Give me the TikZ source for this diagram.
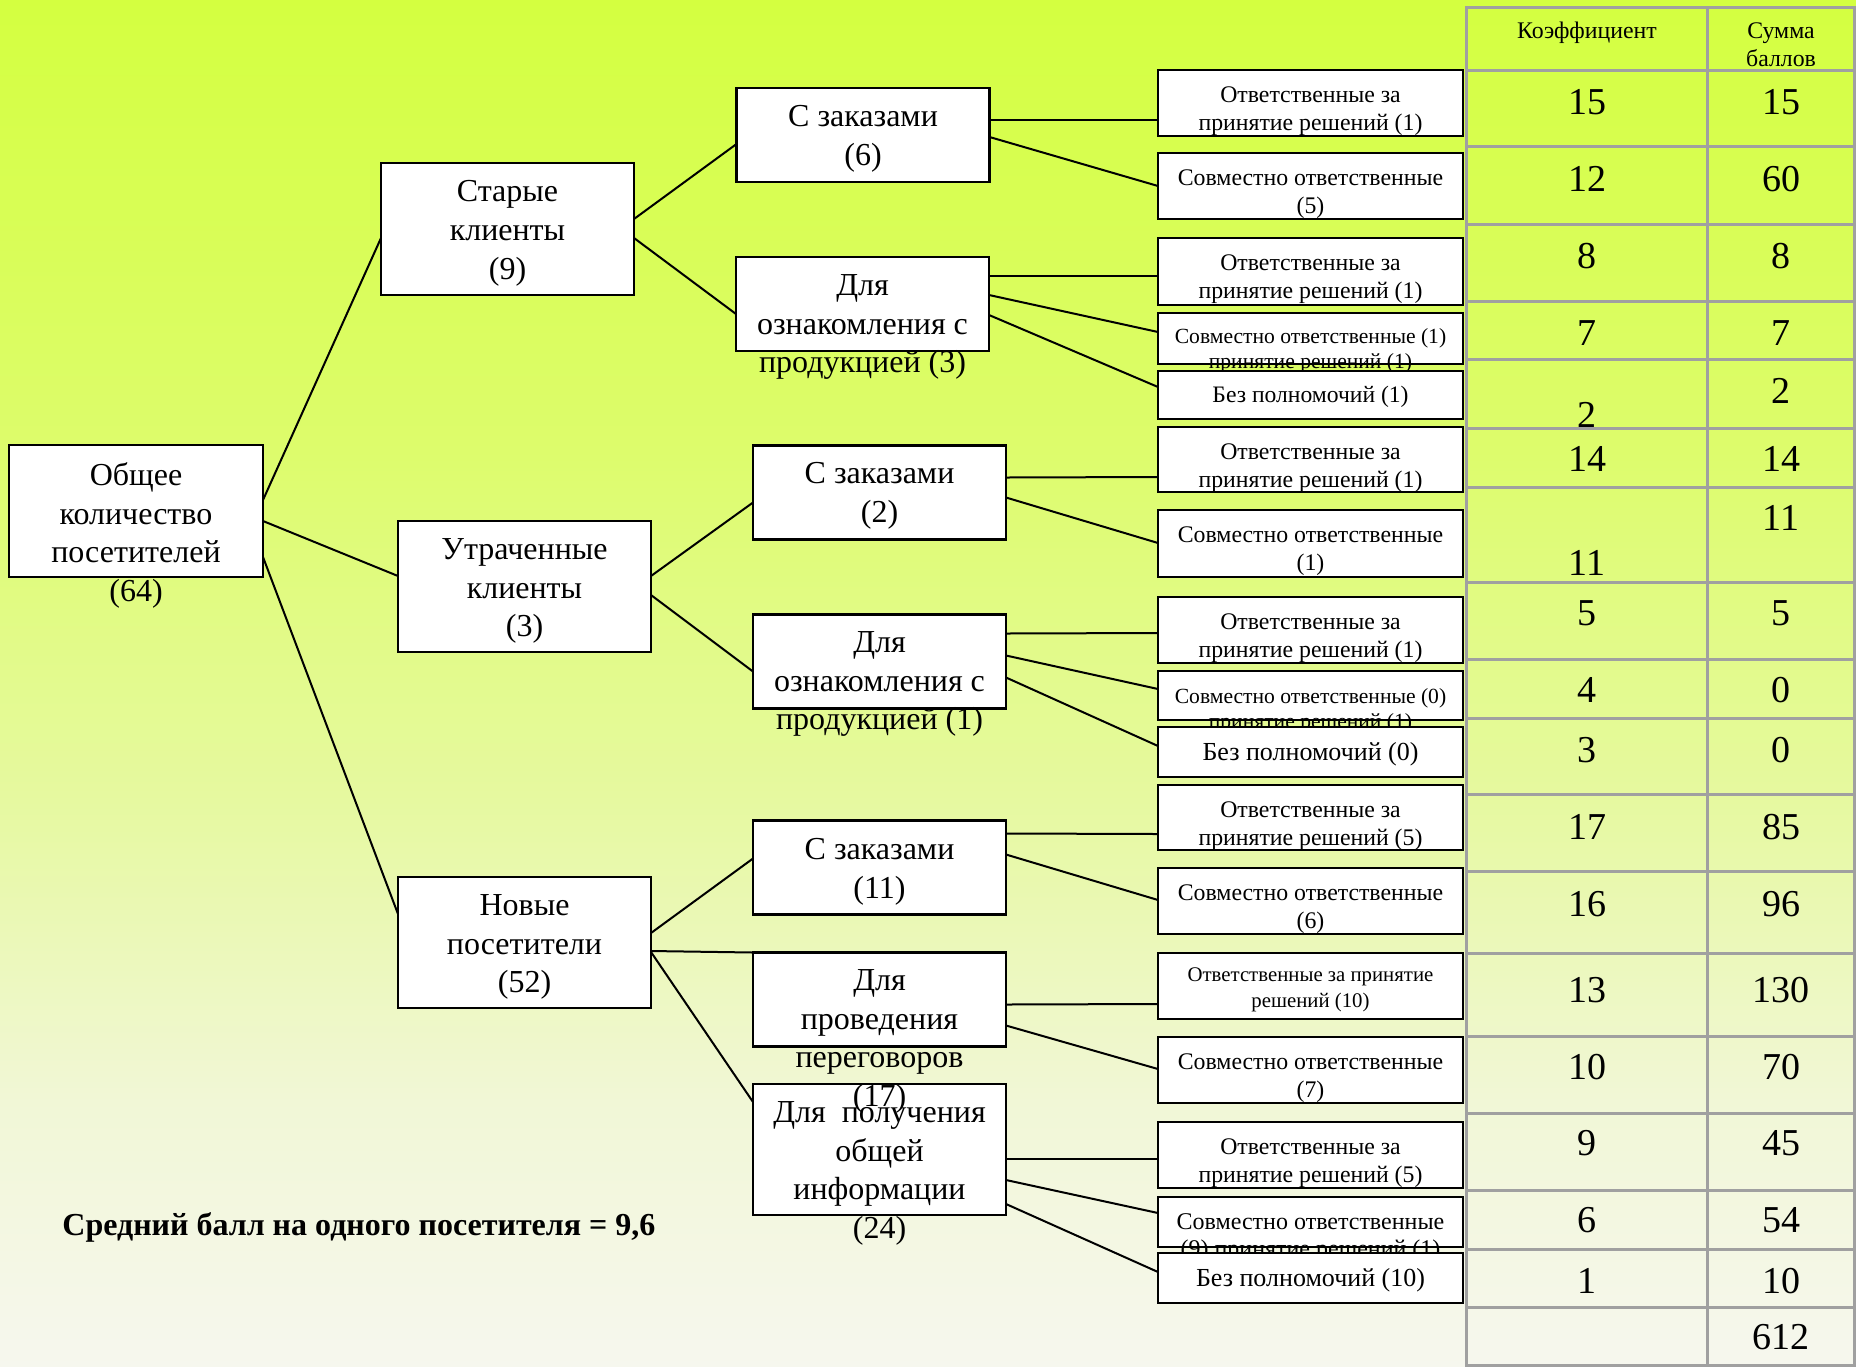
\documentclass[tikz,border=0pt]{standalone}
\usepackage{fontspec}
\setmainfont{Liberation Serif}
\usetikzlibrary{calc}
\definecolor{bgA}{RGB}{212,255,64}
\definecolor{bgB}{RGB}{221,252,108}
\definecolor{bgC}{RGB}{230,249,160}
\definecolor{bgD}{RGB}{241,247,214}
\definecolor{bgE}{RGB}{246,247,238}
\definecolor{tgray}{RGB}{160,160,160}
\pgfdeclareverticalshading{bgsh}{100bp}{color(0bp)=(bgE); color(25bp)=(bgE); color(34.7bp)=(bgD); color(45.7bp)=(bgC); color(58.5bp)=(bgB); color(75bp)=(bgA); color(100bp)=(bgA)}
\begin{document}
\begin{tikzpicture}[x=0.5pt,y=-0.5pt,
  box/.style={draw=black, fill=white, line width=1.3pt, rectangle, inner sep=0pt, outer sep=0pt},
  bigbox/.style={box, minimum width=126.5pt, minimum height=66pt},
  midbox/.style={box, minimum width=126.5pt, minimum height=47pt},
  leafbox/.style={box, minimum width=152.5pt},
  bigtxt/.style={font=\fontsize{16pt}{19.4pt}\selectfont, align=center, inner sep=0pt, anchor=north},
  leaftxt/.style={font=\fontsize{11.9pt}{14.2pt}\selectfont, align=center, inner sep=0pt, anchor=north},
  conn/.style={draw=black, line width=1pt},
  tline/.style={draw=tgray, line width=1.5pt},
  num/.style={font=\fontsize{19pt}{22pt}\selectfont, inner sep=0pt},
  head/.style={font=\fontsize{11.9pt}{14pt}\selectfont, align=center, inner sep=0pt, anchor=north}
]
\useasboundingbox (0,0) rectangle (1856,1366);
\shade[shading=bgsh] (0,0) rectangle (1856,1366);

% ---------- table grid ----------
\begin{scope}
\clip (0,0) rectangle (1856,1366);
\draw[tline] (1466,7) rectangle (1854,1365);
\draw[tline] (1707,7) -- (1707,1365);
\foreach \yy in {70,146,224,301,359,428,487,582,659,718,794,871,953,1036,1113,1190,1249,1307}
  \draw[tline] (1466,\yy) -- (1854,\yy);
\end{scope}

% ---------- boxes level 1 and 2 ----------
\node[bigbox, minimum width=127pt] (root) at (136,511) {};
\node[bigbox] (old) at (507.5,229) {};
\node[bigbox, minimum height=65.5pt] (lost) at (524.5,586.5) {};
\node[bigbox, minimum height=65.5pt] (new) at (524.5,942.5) {};

\node[midbox] (o1) at (863,135) {};
\node[midbox] (o2) at (862.5,304) {};
\node[midbox] (l1) at (879.5,492.5) {};
\node[midbox] (l2) at (879.5,661.5) {};
\node[midbox] (n1) at (879.5,867.5) {};
\node[midbox] (n3) at (879.5,1149.5) [minimum height=65.5pt] {};
\node[midbox] (n2) at (879.5,999.5) {};

% ---------- connectors level 1 -> 2 -> 3 ----------
\draw[conn] ($(root.north east)+(0,55)$) -- ($(old.north west)+(0,75)$);
\draw[conn] ($(root.north east)+(0,76)$) -- ($(lost.north west)+(0,55)$);
\draw[conn] ($(root.north east)+(0,112)$) -- ($(new.north west)+(0,37)$);

\draw[conn] ($(old.north east)+(0,56)$) -- ($(o1.north west)+(0,56)$);
\draw[conn] ($(old.north east)+(0,75)$) -- ($(o2.north west)+(0,57)$);
\draw[conn] ($(lost.north east)+(0,55)$) -- ($(l1.north west)+(0,57)$);
\draw[conn] ($(lost.north east)+(0,74)$) -- ($(l2.north west)+(0,57)$);
\draw[conn] ($(new.north east)+(0,56)$) -- ($(n1.north west)+(0,38)$);
\draw[conn] ($(new.north east)+(0,74)$) -- (n2.north west);
\draw[conn] ($(new.north east)+(0,75)$) -- ($(n3.north west)+(0,18)$);

% ---------- leaf boxes ----------
\node[leafbox, minimum height=33pt] (r1) at (1310.5,103) {};
\node[leafbox, minimum height=33pt] (r2) at (1310.5,186) {};
\node[leafbox, minimum height=33.5pt] (r3) at (1310.5,271.5) {};
\node[leafbox, minimum height=25.5pt] (r4) at (1310.5,338.5) {};
\node[leafbox, minimum height=24pt] (r5) at (1310.5,395) {};
\node[leafbox, minimum height=32.5pt] (r6) at (1310.5,459.5) {};
\node[leafbox, minimum height=33.5pt] (r7) at (1310.5,543.5) {};
\node[leafbox, minimum height=33pt] (r8) at (1310.5,630) {};
\node[leafbox, minimum height=24.5pt] (r9) at (1310.5,695.5) {};
\node[leafbox, minimum height=25pt] (r10) at (1310.5,752) {};
\node[leafbox, minimum height=32.5pt] (r11) at (1310.5,817.5) {};
\node[leafbox, minimum height=33pt] (r12) at (1310.5,901) {};
\node[leafbox, minimum height=33pt] (r13) at (1310.5,986) {};
\node[leafbox, minimum height=33pt] (r14) at (1310.5,1070) {};
\node[leafbox, minimum height=33pt] (r15) at (1310.5,1155) {};
\node[leafbox, minimum height=25pt] (r16) at (1310.5,1222) {};
\node[leafbox, minimum height=25pt] (r17) at (1310.5,1278) {};

\draw[conn] ($(o1.north east)+(0,32)$) -- ($(r1.north west)+(0,50)$);
\draw[conn] ($(o1.north east)+(0,49)$) -- ($(r2.north west)+(0,33)$);
\draw[conn] ($(o2.north east)+(0,19)$) -- ($(r3.north west)+(0,38)$);
\draw[conn] ($(o2.north east)+(0,38)$) -- ($(r4.north west)+(0,19)$);
\draw[conn] ($(o2.north east)+(0,58)$) -- ($(r5.north west)+(0,16)$);
\draw[conn] ($(l1.north east)+(0,32)$) -- ($(r6.north west)+(0,50)$);
\draw[conn] ($(l1.north east)+(0,52)$) -- ($(r7.north west)+(0,33)$);
\draw[conn] ($(l2.north east)+(0,19)$) -- ($(r8.north west)+(0,36)$);
\draw[conn] ($(l2.north east)+(0,41)$) -- ($(r9.north west)+(0,18)$);
\draw[conn] ($(l2.north east)+(0,63)$) -- ($(r10.north west)+(0,19)$);
\draw[conn] ($(n1.north east)+(0,13)$) -- ($(r11.north west)+(0,49)$);
\draw[conn] ($(n1.north east)+(0,34)$) -- ($(r12.north west)+(0,32)$);
\draw[conn] ($(n2.north east)+(0,52)$) -- ($(r13.north west)+(0,51)$);
\draw[conn] ($(n2.north east)+(0,73)$) -- ($(r14.north west)+(0,32)$);
\draw[conn] ($(n3.north east)+(0,75)$) -- ($(r15.north west)+(0,37)$);
\draw[conn] ($(n3.north east)+(0,96)$) -- ($(r16.north west)+(0,16)$);
\draw[conn] ($(n3.north east)+(0,120)$) -- ($(r17.north west)+(0,19)$);

% ---------- texts of level 1 and 2 ----------
\node[bigtxt] (rootT) at (136,462) {Общее\\количество\\посетителей\\(64)};
\node[bigtxt] (oldT) at (507.5,180) {Старые\\клиенты\\(9)};
\node[bigtxt] (lostT) at (524.5,538) {Утраченные\\клиенты\\(3)};
\node[bigtxt] (newT) at (524.5,894) {Новые\\посетители\\(52)};
\node[bigtxt] (o1T) at (863,105) {С заказами\\(6)};
\node[bigtxt] (o2T) at (862.5,274) {Для\\ознакомления с\\продукцией (3)};
\node[bigtxt] (l1T) at (879.5,462) {С заказами\\(2)};
\node[bigtxt] (l2T) at (879.5,631) {Для\\ознакомления с\\продукцией (1)};
\node[bigtxt] (n1T) at (879.5,838) {С заказами\\(11)};
\node[bigtxt] (n3T) at (879.5,1101) {Для\ \ получения\\общей\\информации\\(24)};
\node[bigtxt] (n2T) at (879.5,969) {Для\\проведения\\переговоров\\(17)};

% ---------- leaf texts (drawn in order so later boxes hide overflow) ----------
\node[leaftxt] (r1T) at (1310.5,86) {Ответственные за\\принятие решений (1)};
\node[leaftxt] (r2T) at (1310.5,169) {Совместно ответственные\\(5)};
\node[leaftxt] (r3T) at (1310.5,254) {Ответственные за\\принятие решений (1)};
\node[leaftxt, font=\fontsize{10.8pt}{12.5pt}\selectfont] (r4T) at (1310.5,328) {Совместно ответственные (1)\\принятие решений (1)};
\node[leafbox, minimum height=24pt] (r5b) at (1310.5,395) {};
\node[leaftxt, anchor=center, font=\fontsize{11.8pt}{14pt}\selectfont] (r5T) at (1310.5,397) {Без полномочий (1)};
\node[leaftxt] (r6T) at (1310.5,443) {Ответственные за\\принятие решений (1)};
\node[leaftxt] (r7T) at (1310.5,526) {Совместно ответственные\\(1)};
\node[leaftxt] (r8T) at (1310.5,613) {Ответственные за\\принятие решений (1)};
\node[leaftxt, font=\fontsize{10.8pt}{12.5pt}\selectfont] (r9T) at (1310.5,688) {Совместно ответственные (0)\\принятие решений (1)};
\node[leafbox, minimum height=25pt] (r10b) at (1310.5,752) {};
\node[leaftxt, anchor=center, font=\fontsize{13pt}{14pt}\selectfont] (r10T) at (1310.5,754) {Без полномочий (0)};
\node[leaftxt] (r11T) at (1310.5,801) {Ответственные за\\принятие решений (5)};
\node[leaftxt] (r12T) at (1310.5,884) {Совместно ответственные\\(6)};
\node[leaftxt, font=\fontsize{10.4pt}{13pt}\selectfont] (r13T) at (1310.5,967) {Ответственные за принятие\\решений (10)};
\node[leaftxt] (r14T) at (1310.5,1053) {Совместно ответственные\\(7)};
\node[leaftxt] (r15T) at (1310.5,1138) {Ответственные за\\принятие решений (5)};
\node[leaftxt, font=\fontsize{12pt}{13.5pt}\selectfont] (r16T) at (1310.5,1213) {Совместно ответственные\\(9) принятие решений (1)};
\node[leafbox, minimum height=25pt] (r17b) at (1310.5,1278) {};
\node[leaftxt, anchor=center, font=\fontsize{13pt}{14pt}\selectfont] (r17T) at (1310.5,1280) {Без полномочий (10)};

% ---------- table texts ----------
\node[head] (hK) at (1587,22) {Коэффициент};
\node[head] (hS) at (1781,22) {Сумма\\баллов};
\node[num] (k1) at (1587,102) {15};   \node[num] (s1) at (1781,102) {15};
\node[num] (k2) at (1587,179) {12};   \node[num] (s2) at (1781,179) {60};
\node[num] (k3) at (1587,256) {8};    \node[num] (s3) at (1781,256) {8};
\node[num] (k4) at (1587,333) {7};    \node[num] (s4) at (1781,333) {7};
\node[num] (k5) at (1587,415) {2};    \node[num] (s5) at (1781,391) {2};
\node[num] (k6) at (1587,459) {14};   \node[num] (s6) at (1781,459) {14};
\node[num] (k7) at (1587,563) {11};   \node[num] (s7) at (1781,518) {11};
\node[num] (k8) at (1587,613) {5};    \node[num] (s8) at (1781,613) {5};
\node[num] (k9) at (1587,690) {4};    \node[num] (s9) at (1781,690) {0};
\node[num] (k10) at (1587,750) {3};   \node[num] (s10) at (1781,750) {0};
\node[num] (k11) at (1587,827) {17};  \node[num] (s11) at (1781,827) {85};
\node[num] (k12) at (1587,904) {16};  \node[num] (s12) at (1781,904) {96};
\node[num] (k13) at (1587,990) {13};  \node[num] (s13) at (1781,990) {130};
\node[num] (k14) at (1587,1067) {10}; \node[num] (s14) at (1781,1067) {70};
\node[num] (k15) at (1587,1143) {9};  \node[num] (s15) at (1781,1143) {45};
\node[num] (k16) at (1587,1220) {6};  \node[num] (s16) at (1781,1220) {54};
\node[num] (k17) at (1587,1281) {1};  \node[num] (s17) at (1781,1281) {10};
\node[num] (s18) at (1781,1337) {612};

% ---------- average ----------
\node[font=\bfseries\fontsize{16pt}{18pt}\selectfont, anchor=base west, inner sep=0pt] (avg) at (62,1235) {Средний балл на одного посетителя = 9,6};
\end{tikzpicture}
\end{document}
